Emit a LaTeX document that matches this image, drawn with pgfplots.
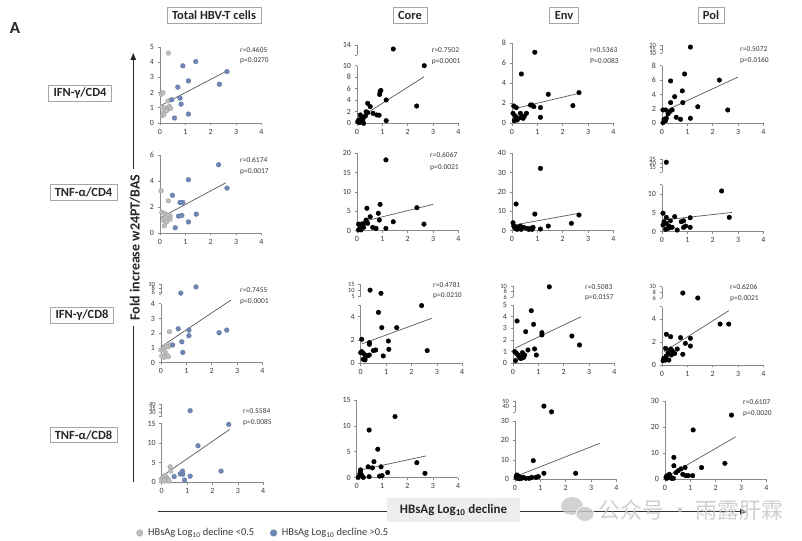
\documentclass[border=0pt]{standalone}
\usepackage{pgfplots}
\pgfplotsset{compat=1.18}
\usepackage{fontspec}
\setmainfont{Carlito}
\newfontfamily\cjk{Noto Sans CJK SC}
\usetikzlibrary{arrows.meta}
\definecolor{axgray}{HTML}{8A8A8A}
\definecolor{txt}{HTML}{3A3A3A}
\definecolor{ptgray}{HTML}{BDBDBD}
\definecolor{ptblue}{HTML}{6F87B6}
\definecolor{boxgray}{HTML}{A6A6A6}
\pgfplotsset{
  panel/.style={scale only axis, width=101.5bp, anchor=south west,
    xmin=0, xmax=4, xtick={0,1,2,3,4},
    axis x line*=bottom, axis y line*=left, enlargelimits=false, clip=false,
    tick align=outside, major tick length=2.5bp,
    axis line style={draw=axgray, line width=0.6bp},
    tick style={draw=axgray, line width=0.6bp},
    tick label style={font=\fontsize{8}{9}\selectfont, text=txt},
    /pgf/number format/assume math mode=true,
  },
  upper/.style={panel, hide x axis, yticklabel style={font=\fontsize{6.5}{7}\selectfont}},
  dots/.style={only marks, mark=*, mark size=2.3bp, mark options={fill=black, draw=black}},
  gdots/.style={only marks, mark=*, mark size=2.4bp, mark options={fill=ptgray, draw=ptgray!85!black, line width=0.3bp}},
  bdots/.style={only marks, mark=*, mark size=2.4bp, mark options={fill=ptblue, draw=ptblue!85!black, line width=0.3bp}},
  fit/.style={no marks, draw=black!65, line width=0.7bp},
}
\begin{document}
\begin{tikzpicture}
\path[use as bounding box, fill=white] (0,0) rectangle (802bp,541bp);

% ================= ROW 1 =================
\begin{axis}[panel, at={(160bp,418bp)}, height=76bp, ymin=0, ymax=5, ytick={0,1,2,3,4,5}]
\addplot[fit] coordinates {(0.04,1.16) (2.64,3.43)};
\addplot[gdots] coordinates {(0.33,4.6) (0.05,1.9) (0.12,2.0) (0.08,1.05) (0.2,1.0) (0.3,0.9) (0.37,1.1) (0.15,0.7) (0.1,0.5) (0.25,0.8) (0.32,1.45) (0.42,0.95) (0.15,0.55)};
\addplot[bdots] coordinates {(0.46,1.53) (0.9,3.76) (1.41,4.04) (0.7,2.36) (1.12,2.77) (0.79,1.64) (0.83,1.24) (0.57,0.33) (1.12,0.59) (2.34,2.55) (2.64,3.38)};
\end{axis}

\begin{axis}[panel, at={(357bp,417.7bp)}, height=57.6bp, ymin=0, ymax=10, ytick={0,2,4,6,8,10}]
\addplot[fit] coordinates {(0.07,0.87) (2.65,8.1)};
\addplot[dots] coordinates {(2.65,10.0) (2.35,3.0) (1.15,4.05) (1.15,0.46) (0.91,5.5) (0.94,5.7) (0.89,5.0) (0.42,3.47) (0.52,2.9) (0.36,2.0) (0.42,1.85) (0.63,1.73) (0.78,1.45) (0.87,1.4) (0.13,1.45) (0.2,0.87) (0.07,0.58) (0.26,1.04) (0.33,1.27) (0.03,0.29) (0.1,0.12) (0.16,0.3) (0.23,0.58) (0.26,0.0)};
\end{axis}
\begin{axis}[upper, at={(357bp,486bp)}, height=10bp, ymin=12, ymax=14, ytick={12,14}, yticklabels={,14}, yticklabel style={font=\fontsize{8}{9}\selectfont}]
\addplot[dots] coordinates {(1.43,13.2)};
\end{axis}

\begin{axis}[panel, at={(512bp,417.7bp)}, height=80bp, ymin=0, ymax=8, ytick={0,2,4,6,8}]
\addplot[fit] coordinates {(0.04,1.43) (2.64,3.0)};
\addplot[dots] coordinates {(0.9,7.1) (0.37,4.93) (1.43,2.9) (2.64,3.07) (2.4,1.77) (1.12,1.57) (1.12,0.6) (0.73,1.83) (0.86,1.67) (0.79,1.83) (0.07,1.73) (0.17,1.57) (0.04,1.0) (0.13,0.73) (0.09,0.27) (0.2,0.33) (0.33,1.0) (0.37,0.6) (0.49,0.73) (0.57,1.0) (0.26,0.5) (0.44,0.5)};
\end{axis}

\begin{axis}[panel, at={(662bp,417.7bp)}, height=57.6bp, ymin=0, ymax=8, ytick={0,2,4,6,8}]
\addplot[fit] coordinates {(0.04,1.6) (2.98,6.4)};
\addplot[dots] coordinates {(0.89,6.85) (0.34,5.88) (2.26,6.0) (0.8,4.5) (0.5,3.7) (0.82,2.87) (0.34,2.87) (1.41,2.3) (2.59,1.85) (1.12,0.7) (0.56,0.83) (0.73,0.56) (0.04,1.85) (0.14,1.85) (0.24,1.3) (0.3,1.6) (0.4,1.85) (0.08,0.56) (0.14,0.37) (0.04,0.1) (0.17,0.7)};
\end{axis}
\begin{axis}[upper, at={(662bp,487.7bp)}, height=8.3bp, ymin=10, ymax=20, ytick={10,15,20}]
\addplot[dots] coordinates {(1.12,17.5)};
\end{axis}

% ================= ROW 2 =================
\begin{axis}[panel, at={(160bp,308bp)}, height=78bp, ymin=0, ymax=6, ytick={0,2,4,6}]
\addplot[fit] coordinates {(0.04,1.19) (2.6,3.87)};
\addplot[gdots] coordinates {(0.04,3.25) (0.33,2.47) (0.07,1.6) (0.18,1.5) (0.13,0.98) (0.33,1.1) (0.4,1.3) (0.26,0.85) (0.17,0.55) (0.3,1.4) (0.4,1.05) (0.22,1.2)};
\addplot[bdots] coordinates {(0.49,2.9) (0.79,2.35) (0.9,2.35) (1.12,4.1) (2.31,5.25) (2.64,3.45) (0.73,1.3) (0.86,1.35) (1.43,1.45) (1.12,0.85) (0.6,0.4)};
\end{axis}

\begin{axis}[panel, at={(357bp,310.3bp)}, height=77.4bp, ymin=0, ymax=20, ytick={0,5,10,15,20}]
\addplot[fit] coordinates {(0.06,2.07) (3.0,6.8)};
\addplot[dots] coordinates {(1.14,18.3) (0.91,6.8) (0.39,5.8) (0.52,3.6) (0.84,4.5) (0.88,2.75) (1.43,2.3) (2.36,5.95) (2.64,1.7) (1.14,0.6) (0.62,0.86) (0.75,0.6) (0.36,2.75) (0.33,2.1) (0.2,1.7) (0.06,1.7) (0.23,1.2) (0.13,0.6) (0.06,0.2) (0.16,0.2) (0.26,0.86) (0.42,1.9)};
\end{axis}

\begin{axis}[panel, at={(512bp,310.3bp)}, height=77.4bp, ymin=0, ymax=40, ytick={0,10,20,30,40}]
\addplot[fit] coordinates {(0.07,2.9) (2.64,9.0)};
\addplot[dots] coordinates {(1.12,32.2) (0.16,13.8) (0.9,8.6) (2.64,8.1) (2.34,3.8) (1.43,2.4) (1.12,0.86) (0.04,4.1) (0.07,2.4) (0.13,1.2) (0.22,1.7) (0.33,2.4) (0.46,1.7) (0.59,1.2) (0.73,1.2) (0.83,1.7) (0.36,0.7) (0.2,0.7) (0.66,0.7) (0.79,0.7)};
\end{axis}

\begin{axis}[panel, at={(662bp,309.3bp)}, height=47.1bp, ymin=0, ymax=12.5, ytick={0,5,10}, extra y ticks={12.5}, extra y tick labels={}]
\addplot[fit] coordinates {(0.04,3.1) (2.75,5.1)};
\addplot[dots] coordinates {(2.35,10.8) (2.65,3.8) (1.11,3.7) (0.5,4.0) (0.33,2.9) (0.76,2.65) (0.85,2.9) (0.04,4.9) (0.17,3.8) (0.08,2.65) (0.17,2.2) (0.27,1.5) (0.33,1.15) (0.4,1.15) (0.93,1.5) (0.85,1.15) (1.11,1.15) (0.6,0.44) (0.14,0.62) (0.24,0.88) (0.04,1.77)};
\end{axis}
\begin{axis}[upper, at={(662bp,369.1bp)}, height=12.6bp, ymin=10, ymax=25, ytick={10,15,20,25}, yticklabels={,15,20,25}]
\addplot[dots] coordinates {(0.17,21.5)};
\end{axis}

% ================= ROW 3 =================
\begin{axis}[panel, at={(161bp,178.3bp)}, height=59bp, ymin=0, ymax=4, ytick={0,1,2,3,4}]
\addplot[fit] coordinates {(0.0,1.08) (2.76,4.25)};
\addplot[gdots] coordinates {(0.33,2.1) (0.0,0.86) (0.09,0.93) (0.16,0.75) (0.22,0.52) (0.29,0.41) (0.03,0.45) (0.29,1.08) (0.2,1.13) (0.36,1.2) (0.13,0.36)};
\addplot[bdots] coordinates {(0.68,2.3) (1.1,2.21) (1.1,1.83) (0.82,1.42) (0.46,1.2) (0.86,0.7) (2.29,2.03) (2.59,2.21)};
\end{axis}
\begin{axis}[upper, at={(161bp,246.7bp)}, height=10bp, ymin=5, ymax=10, ytick={5,6,8,10}, yticklabels={,6,8,10}]
\addplot[bdots] coordinates {(0.78,5.6) (1.38,8.7)};
\end{axis}

\begin{axis}[panel, at={(360.7bp,177.7bp)}, height=58.3bp, ymin=0, ymax=5, ytick={0,2,4}, extra y ticks={5}, extra y tick labels={}]
\addplot[fit] coordinates {(0.04,1.66) (2.8,3.86)};
\addplot[dots] coordinates {(2.4,4.95) (2.62,1.09) (1.42,3.06) (0.83,3.06) (0.7,4.37) (1.09,1.91) (1.11,1.2) (0.89,0.63) (0.34,1.77) (0.34,1.63) (0.04,2.06) (0.5,1.09) (0.59,1.14) (0.04,1.0) (0.1,0.86) (0.17,0.71) (0.26,0.63) (0.34,0.71) (0.1,0.34) (0.17,0.29) (0.0,0.91)};
\end{axis}
\begin{axis}[upper, at={(360.7bp,245bp)}, height=11.7bp, ymin=5, ymax=15, ytick={5,10,15}]
\addplot[dots] coordinates {(0.37,10) (0.8,7.3)};
\end{axis}

\begin{axis}[panel, at={(513bp,177.7bp)}, height=58.3bp, ymin=0, ymax=5, ytick={0,1,2,3,4,5}]
\addplot[fit] coordinates {(0.07,1.29) (2.69,4.0)};
\addplot[dots] coordinates {(0.72,4.51) (0.16,3.63) (0.81,3.34) (0.5,2.71) (1.14,2.63) (1.14,2.43) (2.32,2.34) (2.62,1.57) (0.85,1.23) (0.92,0.71) (0.59,1.14) (0.07,1.0) (0.13,0.86) (0.2,0.71) (0.24,0.57) (0.29,0.43) (0.1,0.23) (0.37,0.91) (0.39,0.63) (0.33,0.43) (0.42,0.51) (0.46,0.71)};
\end{axis}
\begin{axis}[upper, at={(513bp,244bp)}, height=11bp, ymin=6, ymax=10, ytick={6,8,10}]
\addplot[dots] coordinates {(1.43,9.7)};
\end{axis}

\begin{axis}[panel, at={(662bp,176bp)}, height=58.3bp, ymin=0, ymax=5.07, ytick={0,2,4}, extra y ticks={5.07}, extra y tick labels={}]
\addplot[fit] coordinates {(0.08,1.16) (2.63,4.72)};
\addplot[dots] coordinates {(2.29,3.56) (2.63,3.56) (1.12,2.32) (1.12,1.65) (0.92,1.88) (0.82,0.93) (0.73,2.38) (0.6,1.39) (0.34,2.46) (0.17,2.67) (0.34,1.39) (0.4,1.25) (0.14,1.45) (0.24,1.07) (0.17,0.78) (0.07,0.58) (0.04,0.38) (0.27,0.43) (0.14,0.43) (0.37,0.87) (0.5,1.0)};
\end{axis}
\begin{axis}[upper, at={(662bp,242.7bp)}, height=11.6bp, ymin=6, ymax=10, ytick={6,8,10}]
\addplot[dots] coordinates {(0.82,7.8) (1.41,6.1)};
\end{axis}

% ================= ROW 4 =================
\begin{axis}[panel, at={(161.7bp,59bp)}, height=58.4bp, ymin=0, ymax=15, ytick={0,5,10,15},
  legend style={at={(axis description cs:-0.28,-0.873)}, anchor=west, draw=none, fill=none,
    legend columns=2, font=\fontsize{10.5}{11}\selectfont, text=txt,
    /tikz/every odd column/.append style={column sep=3bp},
    /tikz/every even column/.append style={column sep=14bp}},
  legend image post style={mark size=3.3bp}]
\addplot[fit, forget plot] coordinates {(0.0,1.45) (2.68,13.5)};
\addplot[gdots] coordinates {(0,0.86) (0.07,1.4) (0.13,1.7) (0.2,1.1) (0.26,0.7) (0.33,3.9) (0.36,2.8) (0,0.3) (0.17,0.5) (0.29,0.26) (0.1,0.26)};
\addlegendentry{HBsAg Log\textsubscript{10} decline <0.5}
\addplot[bdots] coordinates {(0.49,1.4) (0.73,2.1) (0.82,2.8) (0.83,2.0) (0.9,0.5) (1.12,1.5) (1.43,9.3) (2.34,2.8) (2.64,14.8)};
\addlegendentry{HBsAg Log\textsubscript{10} decline >0.5}
\end{axis}
\begin{axis}[upper, at={(161.7bp,124.7bp)}, height=12bp, ymin=25, ymax=40, ytick={25,30,35,40}, yticklabels={,30,35,40}]
\addplot[bdots] coordinates {(1.12,32)};
\end{axis}

\begin{axis}[panel, at={(356.7bp,63.3bp)}, height=77.7bp, ymin=0, ymax=15, ytick={0,5,10,15}]
\addplot[fit] coordinates {(0.13,1.48) (2.73,4.2)};
\addplot[dots] coordinates {(1.51,11.8) (0.49,9.2) (0.83,5.5) (0.68,3.1) (0.45,2.1) (0.62,1.9) (0.96,2.1) (1.22,1.0) (1.0,0.4) (0.9,0.3) (2.37,2.9) (2.69,0.84) (0.15,1.16) (0.13,0.84) (0.19,0.5) (0.26,0.06) (0.49,0.2) (0.1,0.3) (0.06,0.06) (0.15,1.5)};
\end{axis}

\begin{axis}[panel, at={(515bp,61.7bp)}, height=58.3bp, ymin=0, ymax=30, ytick={0,10,20,30}]
\addplot[fit] coordinates {(0.07,1.7) (3.34,18.5)};
\addplot[dots] coordinates {(0.72,9.6) (1.14,3.1) (2.39,3.1) (0.07,2.2) (0.13,1.7) (0.04,1.0) (0.2,1.0) (0.33,1.0) (0.43,0.5) (0.56,0.5) (0.66,1.0) (0.83,1.0) (0.92,1.4) (0.26,0.5) (0.1,0.5) (0.17,0.3)};
\end{axis}
\begin{axis}[upper, at={(515bp,128.6bp)}, height=11.4bp, ymin=30, ymax=50, ytick={30,40,50}, yticklabels={,40,50}]
\addplot[dots] coordinates {(1.14,41) (1.44,31)};
\end{axis}

\begin{axis}[panel, at={(665bp,61.7bp)}, height=78.3bp, ymin=0, ymax=30, ytick={0,10,20,30}]
\addplot[fit] coordinates {(0.07,1.0) (2.79,16.3)};
\addplot[dots] coordinates {(2.62,24.6) (1.11,18.9) (2.36,6.1) (1.44,4.5) (1.09,1.4) (0.35,8.4) (0.35,5.2) (0.79,4.5) (0.63,4.0) (0.52,3.3) (0.43,2.55) (0.7,1.9) (0.83,1.4) (0.92,1.4) (0.07,1.3) (0.13,0.77) (0.2,1.3) (0.26,0.38) (0.07,0.38) (0.04,0.77) (0.33,0.38) (0.17,1.9)};
\end{axis}

% ================= statistics text =================
\begin{scope}[every node/.style={anchor=west, inner sep=0pt, text=txt, font=\fontsize{7.5}{8}\selectfont}]
\node at (240bp,491bp) {r=0.4605}; \node at (240bp,480bp) {p=0.0270};
\node at (240bp,381bp) {r=0.6174}; \node at (240bp,369bp) {p=0.0017};
\node at (240bp,251bp) {r=0.7455}; \node at (240bp,239bp) {p=0.0001};
\node at (243bp,130bp) {r=0.5584}; \node at (243bp,118bp) {p=0.0085};
\node at (431.7bp,491bp) {r=0.7502}; \node at (431.7bp,479bp) {p=0.0001};
\node at (430bp,386bp) {r=0.6067}; \node at (430bp,373bp) {p=0.0021};
\node at (433bp,256bp) {r=0.4781}; \node at (433bp,245bp) {p=0.0210};
\node at (590bp,491bp) {r=0.5363}; \node at (590bp,480bp) {P=0.0083};
\node at (585bp,254bp) {r=0.5083}; \node at (585bp,243bp) {p=0.0157};
\node at (740bp,492bp) {r=0.5072}; \node at (740bp,480bp) {p=0.0160};
\node at (730bp,254bp) {r=0.6206}; \node at (730bp,242bp) {p=0.0021};
\node at (743bp,139bp) {r=0.6107}; \node at (743bp,127bp) {p=0.0020};
\end{scope}

% ================= headers =================
\node[font=\bfseries\fontsize{17}{18}\selectfont, text=black!85] at (15bp,513bp) {A};
\begin{scope}[every node/.style={draw=boxgray, fill=white, line width=0.6bp, inner xsep=5bp, inner ysep=0pt, minimum height=15.5bp, text=black!85, font=\bfseries\fontsize{12.5}{14}\selectfont}]
\node at (214bp,525.5bp) {Total HBV-T cells};
\node at (410bp,525.5bp) {Core};
\node at (564bp,525.5bp) {Env};
\node at (711bp,525.5bp) {Pol};
\node at (80bp,447.5bp) {IFN-γ/CD4};
\node at (83.5bp,348.5bp) {TNF-α/CD4};
\node at (82bp,225.5bp) {IFN-γ/CD8};
\node at (83.5bp,106bp) {TNF-α/CD8};
\end{scope}

% ================= arrows =================
\draw[line width=1.2bp, black!85, -{Triangle[length=7bp,width=5.5bp]}] (133.3bp,59bp) -- (133.3bp,488bp);
\node[fill=white, rotate=90, inner xsep=6bp, inner ysep=1bp, text=black!85, font=\bfseries\fontsize{14}{15}\selectfont] at (135bp,293.5bp) {Fold increase w24PT/BAS};

\draw[line width=0.9bp, black!80, -{Triangle[length=7bp,width=5.5bp]}] (158bp,29.3bp) -- (747bp,29.3bp);
\node[fill=black!7, minimum width=133bp, minimum height=24bp, inner sep=0pt, text=black!85, font=\bfseries\fontsize{13}{14}\selectfont] at (453.5bp,31bp) {HBsAg Log\textsubscript{10} decline};

% ================= watermark =================
\fill[black!22, opacity=0.8] (572bp,35bp) ellipse (11bp and 9bp);
\fill[black!22, opacity=0.8, draw=white, line width=1bp] (585bp,27bp) ellipse (9bp and 7.5bp);
\node[anchor=west, text=black!22, opacity=0.85, font=\cjk\fontsize{22}{24}\selectfont] at (595bp,31bp) {公众号 · 雨露肝霖};
\end{tikzpicture}
\end{document}
